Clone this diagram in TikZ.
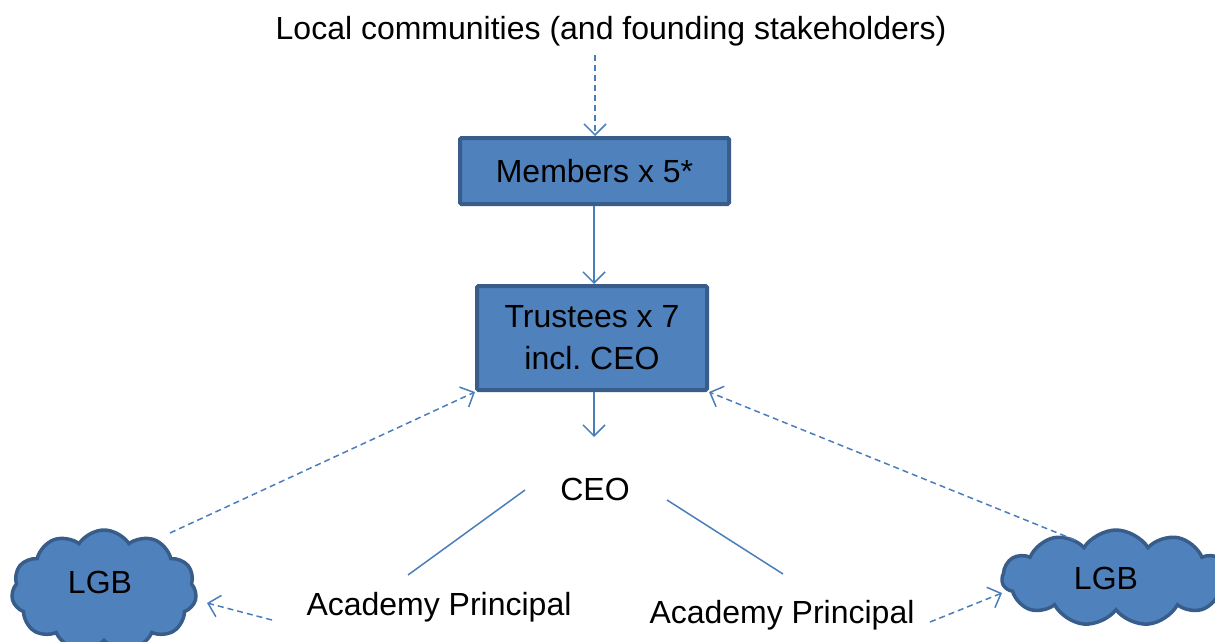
\documentclass[tikz,border=0pt]{standalone}
\usepackage{fontspec}
\setmainfont{Liberation Sans}
\frenchspacing
\usetikzlibrary{arrows.meta,shapes.symbols}
\definecolor{boxfill}{HTML}{4F81BD}
\definecolor{boxline}{HTML}{385D8A}
\definecolor{conn}{HTML}{4A7EBB}
\tikzset{
  txt/.style={font=\fontsize{32}{42}\selectfont, inner sep=0pt, align=center},
  boxnode/.style={txt, rectangle, fill=boxfill, draw=boxline, line width=4pt, rounded corners=1.5pt},
  cloudnode/.style={txt, cloud, cloud puffs=11, cloud puff arc=115, cloud ignores aspect, fill=boxfill, draw=boxline, line width=3.5pt},
  arr/.style={draw=conn, line width=1.5pt, -{Straight Barb[length=11pt,width=22pt,line width=1.5pt]}},
  darr/.style={arr, dash pattern=on 6pt off 4pt},
  plain/.style={draw=conn, line width=1.5pt}
}
\begin{document}
\begin{tikzpicture}[x=1pt,y=-1pt]
\useasboundingbox (0,0) rectangle (1215,642);
\node[txt] (lc) at (611,31) {Local communities (and founding stakeholders)};
\node[boxnode, minimum width=269pt, minimum height=66pt] (mem) at (594.5,171) {Members x 5*};
\node[boxnode, minimum width=230pt, minimum height=104pt] (tr) at (592,338) {Trustees x 7\\incl. CEO};
\node[txt] (ceo) at (595,489) {CEO};
\node[txt] (apL) at (439,607) {Academy Principal};
\node[txt] (apR) at (782,615) {Academy Principal};
\node[cloudnode, minimum width=185pt, minimum height=122pt] (lgbL) at (104,591) {};
\node[txt] at (100,582) {LGB};
\node[cloudnode, minimum width=228pt, minimum height=96pt] (lgbR) at (1116,578) {};
\node[txt] at (1106,578) {LGB};
\coordinate (lcb) at (595,55);
\coordinate (mx) at (594,0);
\coordinate (c1) at (525,490);
\coordinate (c2) at (408,575);
\coordinate (c3) at (667,500);
\coordinate (c4) at (783,574);
\coordinate (a1) at (272,620);
\coordinate (a1e) at (207,603);
\coordinate (a2) at (930,622);
\coordinate (a2e) at (1002,593);
\coordinate (gL) at (170,533);
\coordinate (gR) at (1075,540);
\coordinate (ceotop) at (594,437);
\draw[darr] (lcb) -- (lcb |- mem.north);
\draw[arr] (mx |- mem.south) -- (mx |- tr.north);
\draw[arr] (mx |- tr.south) -- (ceotop);
\draw[plain] (c1) -- (c2);
\draw[plain] (c3) -- (c4);
\draw[darr] (gL) -- (tr.south west);
\draw[darr] (gR) -- (tr.south east);
\draw[darr] (a1) -- (a1e);
\draw[darr] (a2) -- (a2e);
\end{tikzpicture}
\end{document}
